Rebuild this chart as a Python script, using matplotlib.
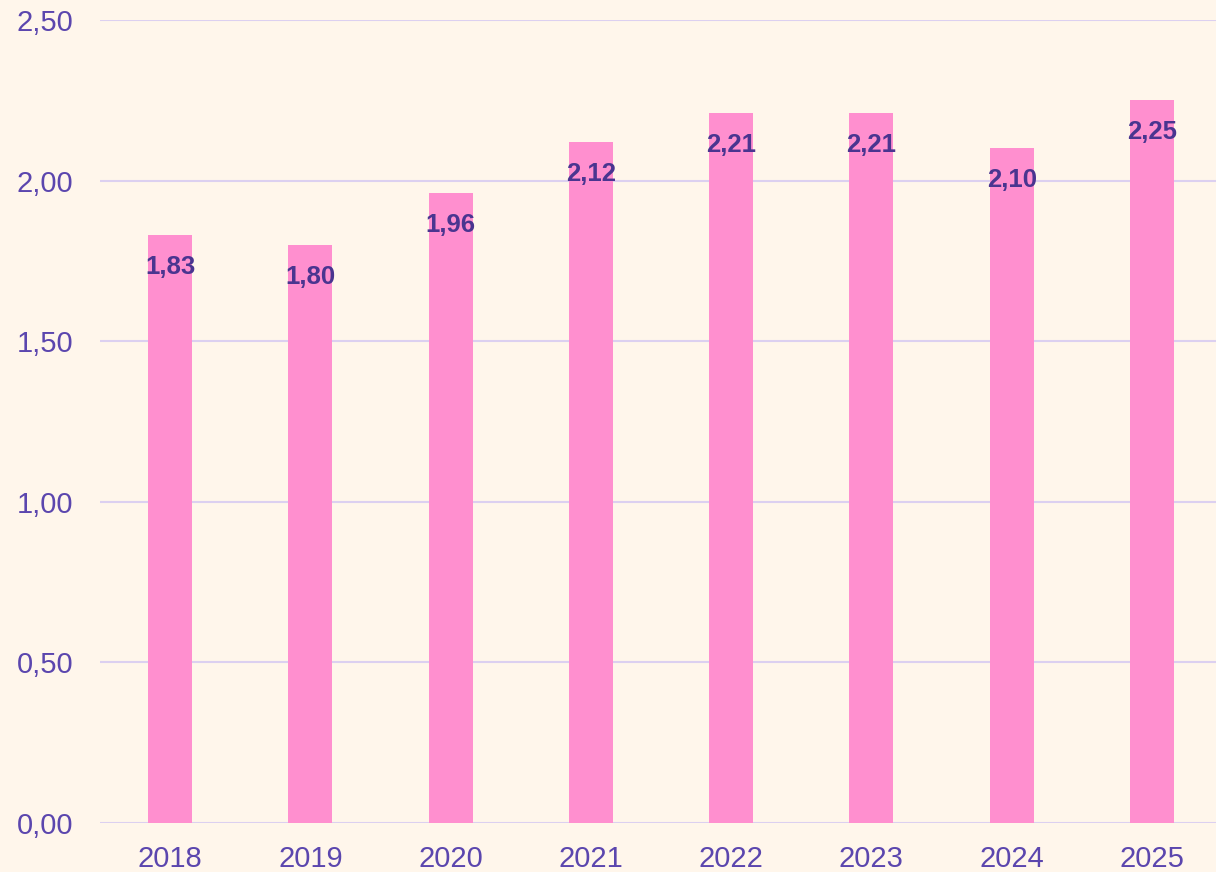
import matplotlib.pyplot as plt
import numpy as np

years = ['2018', '2019', '2020', '2021', '2022', '2023', '2024', '2025']
values = [1.83, 1.80, 1.96, 2.12, 2.21, 2.21, 2.10, 2.25]
yticks = [0.0, 0.5, 1.0, 1.5, 2.0, 2.5]

bg = '#FFF6EB'
bar_color = '#FF8FCF'
tick_color = '#5B46AE'
label_color = '#4A3590'
grid_color = '#DCD0F0'

plt.rcParams['font.family'] = ['Liberation Sans', 'DejaVu Sans']

fig = plt.figure(figsize=(12.16, 8.72), dpi=100)
fig.patch.set_facecolor(bg)
ax = fig.add_axes([100 / 1216, 1 - 823 / 872, 1122 / 1216, 803 / 872])
ax.set_facecolor(bg)

x = np.arange(len(years))
bars = ax.bar(x, values, width=0.315, color=bar_color, zorder=2)

# value labels just inside the top of each bar
for xi, v in zip(x, values):
    ax.annotate(f'{v:.2f}'.replace('.', ','), (xi, v), textcoords='offset points',
                xytext=(0, -23), ha='center', va='center', fontsize=18.5,
                fontweight='bold', color=label_color, zorder=3)

ax.set_xlim(-0.5, len(years) - 0.5)
ax.set_ylim(0, 2.5)
ax.set_yticks(yticks)
ax.set_yticklabels([f'{t:.2f}'.replace('.', ',') for t in yticks])
ax.set_xticks(x)
ax.set_xticklabels(years)
ax.yaxis.grid(True, color=grid_color, linewidth=1.5, zorder=1)
ax.set_axisbelow(True)
for s in ax.spines.values():
    s.set_visible(False)
ax.tick_params(axis='y', length=0, pad=19, labelsize=21, labelcolor=tick_color)
ax.tick_params(axis='x', length=0, pad=16, labelsize=21, labelcolor=tick_color)

fig.savefig('out.png', dpi=100, facecolor=bg)
